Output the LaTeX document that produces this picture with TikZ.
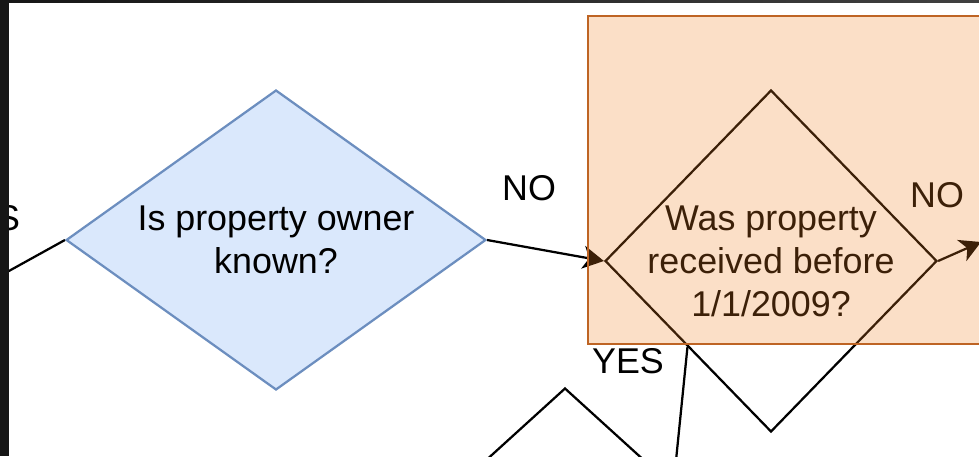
\documentclass[tikz,border=0pt]{standalone}
\usepackage{fontspec}
\setmainfont{Liberation Sans}
\usetikzlibrary{shapes.geometric,arrows.meta}
\definecolor{askfill}{HTML}{DAE8FC}
\definecolor{askline}{HTML}{6C8EBF}
\definecolor{grpfill}{RGB}{243,131,35}
\definecolor{grpline}{RGB}{190,100,36}
\definecolor{frame}{HTML}{161616}
\tikzset{
	decision/.style={diamond, draw=black, fill=white, line width=0.045cm, inner sep=0pt},
	txt/.style={align=center, inner sep=0pt, font=\fontsize{20.4}{24.5}\selectfont},
	wire/.style={line width=0.045cm},
	flow/.style={wire, -{Stealth[length=0.42cm,width=0.46cm,inset=0.12cm]}},
	group/.style={draw=grpline, line width=0.055cm, fill=grpfill, fill opacity=0.25}
}

\begin{document}
\begin{tikzpicture}[x=0.02cm, y=-0.02cm]
		%%%%% START %%%%%
		\useasboundingbox (0, 0) rectangle (979, 456);
		\clip (0, 0) rectangle (979, 456);
		\fill[white] (0, 0) rectangle (979, 456);
		
		\node[decision, minimum width=6.6cm, minimum height=6cm] (d3) at (565, 538) {};
		\node[decision, fill=askfill, draw=askline, minimum width=8.4cm, minimum height=6cm] (d1) at (276, 240) {};
		\node[txt] (q1) at (d1) {Is property owner\\known?};
		\node[decision, minimum width=6.64cm, minimum height=6.84cm] (d2) at (771, 261) {};
		\node[txt] (q2) at (d2) {Was property\\received before\\1/1/2009?};
		
		\coordinate (inL) at (-20, 287);
		\coordinate (outR) at (981, 242);
		\coordinate (down) at (672, 500);
		\draw[wire] (inL) -- (d1.west);
		\draw[flow] (d1.east) -- (d2.west);
		\draw[flow] (d2.east) -- (outR);
		\draw[wire] (d2.south west) -- (down);
		
		\node[txt, anchor=east] (yes0) at (20.5, 218) {YES};
		\node[txt] (no1) at (529, 188) {NO};
		\node[txt] (no2) at (937, 195) {NO};
		\node[txt] (yes2) at (628, 361) {YES};
		
		\draw[group] (588, 16) rectangle (1000, 344);
		
		\fill[left color=frame, right color=black!75] (0, 0) rectangle (979, 3);
		\fill[frame] (0, 0) rectangle (8.5, 456);
		%%%%% END %%%%%
	\end{tikzpicture}
\end{document}
